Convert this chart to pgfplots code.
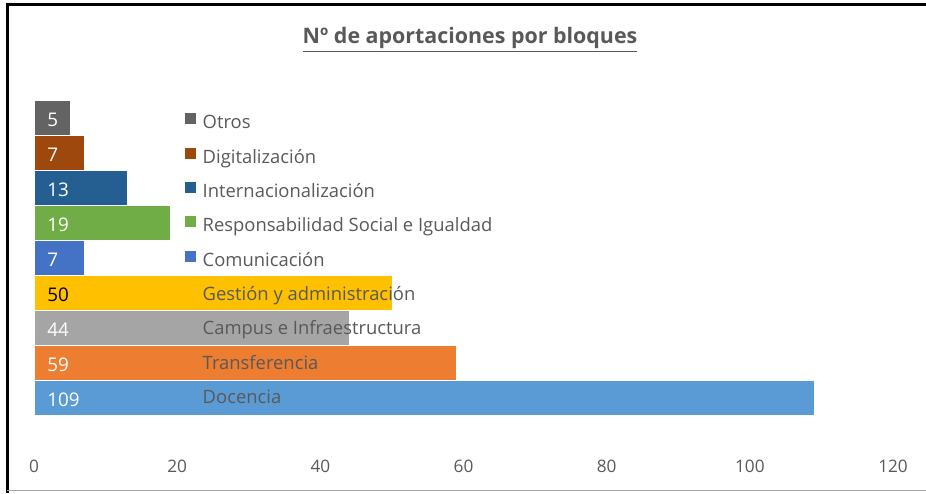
\documentclass[border=0pt]{standalone}
\usepackage{fontspec}
\setmainfont{Open Sans}
\usepackage{pgfplots}
\pgfplotsset{compat=1.18}

\definecolor{cDoc}{HTML}{5B9BD5}
\definecolor{cTra}{HTML}{ED7D31}
\definecolor{cCam}{HTML}{A5A5A5}
\definecolor{cGes}{HTML}{FFC000}
\definecolor{cCom}{HTML}{4472C4}
\definecolor{cRes}{HTML}{70AD47}
\definecolor{cInt}{HTML}{255E91}
\definecolor{cDig}{HTML}{9E480E}
\definecolor{cOtr}{HTML}{636363}
\definecolor{txtgray}{HTML}{595959}

\begin{document}
\begin{tikzpicture}
  \useasboundingbox (0,0) rectangle (463pt,246.5pt);
  % frame
  \draw[line width=1.5pt, black] (3.5pt,0) -- (3.5pt,244pt) -- (463pt,244pt);
  \draw[gray!70, line width=0.6pt] (3.5pt,1.2pt) -- (463pt,1.2pt);
  \begin{axis}[
    at={(17pt,21.5pt)}, anchor=south west,
    scale only axis, width=429.5pt, height=175pt,
    xbar, bar width=1, bar shift=0pt,
    xmin=0, xmax=120, ymin=-1.5, ymax=8.5,
    xtick={0,20,...,120}, ytick=\empty,
    axis line style={draw=none}, major tick length=0pt,
    /pgf/number format/assume math mode=true,
    xticklabel style={font=\fontsize{8.6}{10}\selectfont, text=txtgray, anchor=center, yshift=-8pt},
    title={\underline{\textbf{Nº de aportaciones por bloques}}},
    title style={at={(0.5076,1.137)}, anchor=center, yshift=0pt,
      font=\fontsize{10.7}{12}\selectfont, text=txtgray, inner sep=0pt},
    visualization depends on=rawx \as \rawx,
    nodes near coords,
    nodes near coords style={anchor=west, inner sep=0pt, text=white,
      font=\fontsize{9.4}{11}\selectfont, xshift=-\rawx*3.57917pt+6.5pt, yshift=-1pt},
    legend style={at={(0.175,0.963)}, anchor=north west, draw=none, fill=none,
      inner sep=0pt, font=\fontsize{9.2}{11}\selectfont, text=txtgray,
      row sep=7.35pt, column sep=3.5pt,
      nodes={inner sep=0pt, text height=6pt, text depth=2pt}},
    legend cell align=left,
    legend image code/.code={\fill[#1, draw=none] (0pt,0.3pt) rectangle (5.5pt,5.8pt);},
  ]
    \addplot[fill=cOtr, draw=white, line width=0.25pt] coordinates {(5,8)};
    \addplot[fill=cDig, draw=white, line width=0.25pt] coordinates {(7,7)};
    \addplot[fill=cInt, draw=white, line width=0.25pt] coordinates {(13,6)};
    \addplot[fill=cRes, draw=white, line width=0.25pt] coordinates {(19,5)};
    \addplot[fill=cCom, draw=white, line width=0.25pt] coordinates {(7,4)};
    \addplot[fill=cGes, draw=white, line width=0.25pt,
      every node near coord/.append style={text=black}] coordinates {(50,3)};
    \addplot[fill=cCam, draw=white, line width=0.25pt] coordinates {(44,2)};
    \addplot[fill=cTra, draw=white, line width=0.25pt] coordinates {(59,1)};
    \addplot[fill=cDoc, draw=white, line width=0.25pt] coordinates {(109,0)};
    \legend{Otros, Digitalización, Internacionalización,
      Responsabilidad Social e Igualdad, Comunicación,
      Gestión y administración, Campus e Infraestructura,
      Transferencia, Docencia}
  \end{axis}
\end{tikzpicture}
\end{document}
